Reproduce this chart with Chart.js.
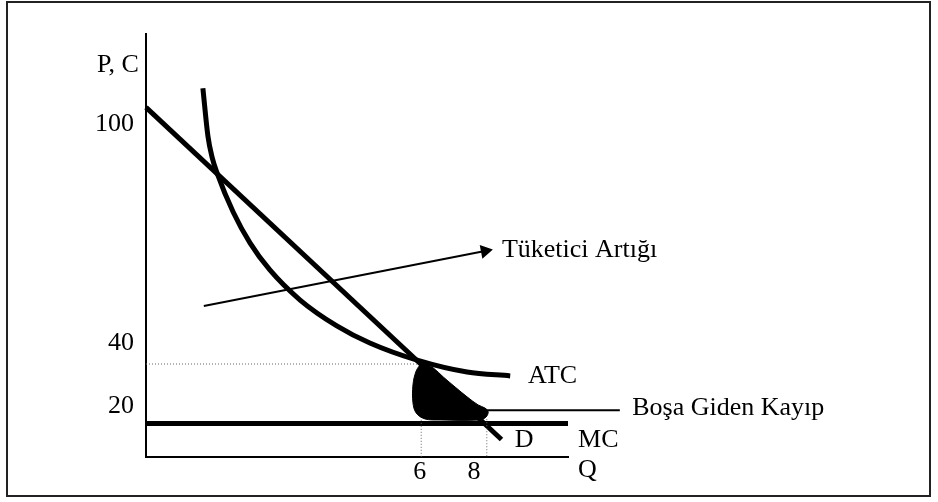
<!DOCTYPE html>
<html>
<head>
<meta charset="utf-8">
<script src="https://cdn.jsdelivr.net/npm/chart.js@4.4.0/dist/chart.umd.min.js"></script>
<style>
  body { margin: 0; background: #fff; }
  #wrap { position: relative; width: 938px; height: 502px; }
  #frame { position: absolute; left: 6px; top: 1px; width: 921px; height: 492px; border: 2px solid #222; }
  #myChart { position: absolute; left: 0; top: 0; }
</style>
</head>
<body>
<div id="wrap">
  <div id="frame"></div>
  <canvas id="myChart" width="938" height="502"></canvas>
</div>
<script>
// talep (D)
const demandQ = [0, 7.75];
const demandP = [100, 5];

// ortalama toplam maliyet (ATC)
const atcQ = [1.24, 1.35, 1.44, 1.55, 1.90, 2.27, 2.70, 3.36, 4.16, 4.88, 5.91, 7.00, 7.94];
const atcP = [105.5, 91.8, 85.8, 81.2, 70.1, 61.2, 53.5, 44.9, 37.5, 32.6, 27.7, 24.3, 23.2];

// marjinal maliyet (MC)
const mcQ = [0, 9.2];
const mcP = [9.6, 9.6];

// ölü ağırlık kaybı (siyah alan)
const dwlQ = [6.02, 6.26, 6.48, 6.74, 7.00, 7.24, 7.39, 7.46, 7.41, 7.28, 6.41, 6.08, 5.89, 5.82, 5.82, 5.89, 6.02];
const dwlP = [27.2, 25.5, 22.9, 20.0, 17.2, 14.9, 14.0, 12.9, 11.4, 10.6, 10.6, 10.9, 12.6, 15.5, 20.6, 24.6, 27.2];

// kesikli yardımcı çizgiler
const guideP40Q = [0, 5.93];
const guideP40P = [26.6, 26.6];
const guideQ6Q = [6.0, 6.0];
const guideQ6P = [11.5, 0];
const guideQ8Q = [7.43, 7.43];
const guideQ8P = [10.8, 0];

// oklar
const arrowCsQ = [1.26, 7.39];
const arrowCsP = [43.2, 58.9];
const arrowDwlQ = [7.39, 10.33];
const arrowDwlP = [13.4, 13.4];

// eksen etiketleri
const yTickLabels = ["100", "40", "20"];
const yTickAt = [95.1, 32.6, 14.6];
const xTickLabels = ["6", "8"];
const xTickAt = [5.97, 7.15];

// metinler
const noteTexts = ["P, C", "ATC", "D", "MC", "Q", "Tüketici Artığı", "Boşa Giden Kayıp"];
const noteQ = [-1.07, 8.33, 8.04, 9.42, 9.42, 7.76, 10.60];
const noteP = [110.1, 21.2, 2.86, 2.86, -5.72, 57.2, 12.0];

const FONT = "Liberation Serif";

const pts = (q, p) => q.map((x, i) => ({ x: x, y: p[i] }));

const noteLabels = {
    id: "noteLabels",
    afterDatasetsDraw(chart) {
        const { ctx, scales } = chart;
        ctx.save();
        ctx.font = "26px '" + FONT + "'";
        ctx.fillStyle = "#000";
        ctx.textAlign = "left";
        ctx.textBaseline = "alphabetic";
        noteTexts.forEach((t, i) => {
            ctx.fillText(t, scales.x.getPixelForValue(noteQ[i]), scales.y.getPixelForValue(noteP[i]));
        });
        ctx.restore();
    }
};

const lineSet = (data, width, extra) => Object.assign({
    data: data,
    showLine: true,
    borderColor: "#000",
    backgroundColor: "#000",
    borderWidth: width,
    pointRadius: 0,
    fill: false,
    clip: false
}, extra || {});

const ctx = document.querySelector("#myChart");

new Chart(ctx, {
    type: "scatter",
    data: {
        datasets: [
            lineSet(pts(dwlQ, dwlP), 1, { fill: "shape", tension: 0.35 }),
            lineSet(pts(guideP40Q, guideP40P), 1, { borderColor: "#666", borderDash: [1, 2] }),
            lineSet(pts(guideQ6Q, guideQ6P), 1, { borderColor: "#666", borderDash: [1, 2] }),
            lineSet(pts(guideQ8Q, guideQ8P), 1, { borderColor: "#666", borderDash: [1, 2] }),
            lineSet(pts(mcQ, mcP), 5),
            lineSet(pts(atcQ, atcP), 5, { cubicInterpolationMode: "monotone", borderCapStyle: "butt" }),
            lineSet(pts(demandQ, demandP), 5),
            lineSet(pts(arrowCsQ, arrowCsP), 2, {
                pointRadius: [0, 6], pointStyle: "triangle", pointRotation: [0, 79]
            }),
            lineSet(pts(arrowDwlQ, arrowDwlP), 2, {
                pointRadius: [0, 6], pointStyle: "triangle", pointRotation: [0, 90]
            })
        ]
    },
    options: {
        responsive: false,
        animation: false,
        devicePixelRatio: 1,
        layout: { padding: { left: 6, top: 34, right: 370, bottom: 0 } },
        plugins: { legend: { display: false }, tooltip: { enabled: false } },
        scales: {
            x: {
                type: "linear",
                min: 0,
                max: 9.2,
                grid: { display: false, drawTicks: false },
                border: { display: true, color: "#000", width: 2 },
                afterBuildTicks: s => { s.ticks = xTickAt.map(v => ({ value: v })); },
                afterFit: s => { s.height = 45; },
                ticks: {
                    callback: (v, i) => xTickLabels[i],
                    color: "#000",
                    font: { family: FONT, size: 26 },
                    padding: 0,
                    autoSkip: false,
                    maxRotation: 0
                }
            },
            y: {
                type: "linear",
                min: 0,
                max: 121,
                grid: { display: false, drawTicks: false },
                border: { display: true, color: "#000", width: 2 },
                afterBuildTicks: s => { s.ticks = yTickAt.map(v => ({ value: v })); },
                afterFit: s => { s.width = 140; },
                ticks: {
                    callback: (v, i) => yTickLabels[i],
                    color: "#000",
                    font: { family: FONT, size: 26 },
                    padding: 12,
                    autoSkip: false
                }
            }
        }
    },
    plugins: [noteLabels]
});
</script>
</body>
</html>
